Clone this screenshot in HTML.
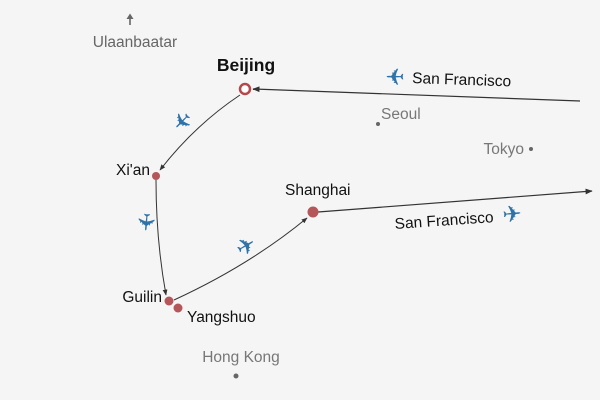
<!DOCTYPE html>
<html><head><style>
html,body{margin:0;padding:0;background:#f5f5f5;}
svg{display:block;font-family:"Liberation Sans",sans-serif;}
.pl{fill:#2e72a8;font-size:23px;font-family:"DejaVu Sans",sans-serif;}
</style></head><body>
<svg width="600" height="400" viewBox="0 0 600 400">
<defs>
<marker id="a" viewBox="0 0 10 10" refX="9" refY="5" markerWidth="6" markerHeight="6" orient="auto"><path d="M0,1 L10,5 L0,9 z" fill="#333"/></marker>
</defs>
<rect width="600" height="400" fill="#f5f5f5"/>
<path d="M130,25 L130,16" stroke="#666" stroke-width="1.6"/>
<path d="M126.5,19 L130,13.5 L133.5,19 z" fill="#666"/>
<text x="135" y="47" font-size="15.5" fill="#666" text-anchor="middle">Ulaanbaatar</text>
<circle cx="378" cy="124" r="2" fill="#666"/>
<text x="381" y="119" font-size="15.5" fill="#777">Seoul</text>
<circle cx="531" cy="149" r="2" fill="#666"/>
<text x="524" y="154" font-size="15.5" fill="#777" text-anchor="end">Tokyo</text>
<circle cx="236" cy="376" r="2.5" fill="#666"/>
<text x="241" y="362" font-size="15.5" fill="#777" text-anchor="middle">Hong Kong</text>
<path d="M580,101 L253,89" stroke="#333" stroke-width="1.2" fill="none" marker-end="url(#a)"/>
<path d="M240,95 Q195,125 160,170" stroke="#333" stroke-width="1" fill="none" marker-end="url(#a)"/>
<path d="M156,180 Q156,240 166,295" stroke="#333" stroke-width="1" fill="none" marker-end="url(#a)"/>
<path d="M174,300 Q250,265 307,218" stroke="#333" stroke-width="1" fill="none" marker-end="url(#a)"/>
<path d="M318,212 L592,191" stroke="#333" stroke-width="1.2" fill="none" marker-end="url(#a)"/>
<circle cx="245" cy="89" r="5" fill="#fff" stroke="#b5484b" stroke-width="2.5"/>
<circle cx="156" cy="176" r="4" fill="#b5565a"/>
<circle cx="169" cy="301" r="4.5" fill="#b5565a"/>
<circle cx="178" cy="308" r="4.5" fill="#b5565a"/>
<circle cx="313" cy="212" r="5.5" fill="#b5565a"/>
<text x="246" y="71" font-size="17.5" font-weight="bold" fill="#111" text-anchor="middle">Beijing</text>
<text x="150" y="175" font-size="15.5" fill="#111" text-anchor="end">Xi'an</text>
<text x="162" y="302" font-size="15.5" fill="#111" text-anchor="end">Guilin</text>
<text x="187" y="322" font-size="15.5" fill="#111">Yangshuo</text>
<text x="285" y="195" font-size="15.5" fill="#111">Shanghai</text>
<text x="412" y="83" font-size="15.5" fill="#111" transform="rotate(2 412 83)">San Francisco</text>
<text x="395" y="229" font-size="15.5" fill="#111" transform="rotate(-4 395 229)">San Francisco</text>
<text class="pl" x="0" y="8" text-anchor="middle" transform="translate(182,121) rotate(135)">✈</text>
<text class="pl" x="0" y="8" text-anchor="middle" transform="translate(146,222) rotate(95)">✈</text>
<text class="pl" x="0" y="8" text-anchor="middle" transform="translate(246,246) rotate(-30)">✈</text>
<text class="pl" x="0" y="8" text-anchor="middle" transform="translate(395,77) rotate(180) scale(1,-1)">✈</text>
<text class="pl" x="0" y="8" text-anchor="middle" transform="translate(512,214) rotate(-5)">✈</text>
</svg>
</body></html>
